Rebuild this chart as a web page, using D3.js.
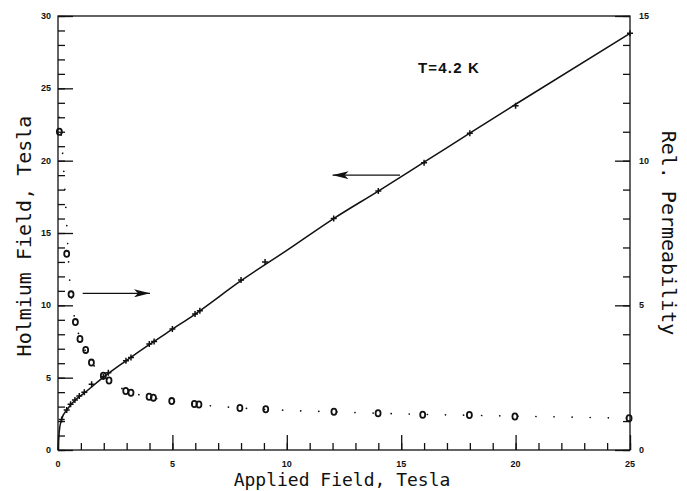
<!DOCTYPE html>
<html><head><meta charset="utf-8">
<script src="https://cdn.jsdelivr.net/npm/d3@7"></script>
<style>body{margin:0;background:#fff}svg{display:block}</style>
</head><body>
<script>
// Holmium field (left axis) measured points
const hoX = [0.16,0.38,0.55,0.74,0.93,1.15,1.47,1.98,2.2,2.97,3.19,3.99,4.2,5.0,5.99,6.2,8.0,9.05,12.05,14.0,16.0,18.0,20.0,25.0];
const hoY = [2.1,2.76,3.16,3.45,3.73,3.99,4.54,5.07,5.34,6.17,6.4,7.33,7.5,8.36,9.4,9.63,11.75,13.0,16.0,17.9,19.86,21.9,23.8,28.8];
// Holmium field fitted curve
const hoFitX = [0,0.05,0.15,0.4,0.75,1.2,2,3,4,5,6,8,10,12,14,16,18,20,25];
const hoFitY = [0,1.2,2.1,2.8,3.45,4.0,5.05,6.2,7.3,8.35,9.4,11.7,13.8,15.95,17.9,19.9,21.9,23.9,28.8];
// Relative permeability (right axis) measured points
const pmX = [0.06,0.38,0.57,0.76,0.96,1.21,1.46,1.98,2.23,2.96,3.19,3.98,4.17,4.97,5.96,6.16,7.95,9.08,12.06,13.99,15.94,17.98,19.97,24.96];
const pmY = [11.0,6.78,5.38,4.42,3.84,3.46,3.02,2.57,2.40,2.04,1.98,1.84,1.81,1.69,1.59,1.57,1.45,1.41,1.32,1.27,1.22,1.21,1.16,1.10];
// Relative permeability fitted curve (dotted)
const pmFitX = [0.05,0.2,0.3,0.4,0.5,0.6,0.8,1,1.5,2,3,4,5,6,8,10,12,14,16,18,20,25];
const pmFitY = [11.5,10.3,9.0,7.5,6.0,5.2,4.3,3.8,3.0,2.55,2.05,1.83,1.68,1.58,1.45,1.37,1.32,1.27,1.23,1.2,1.17,1.1];
// Tick labels
const xTicks = [0,5,10,15,20,25];
const yLeftTicks = [0,5,10,15,20,25,30];
const yRightTicks = [0,5,10,15];
// Annotation arrows (data coords on left axis)
const arrowsX1 = [14.95, 1.08];
const arrowsX2 = [12.0, 4.02];
const arrowsY = [19.0, 10.83];

const W = 687, H = 491;
const L = 58, R = 630, T = 16, B = 450;
const svg = d3.select("body").append("svg").attr("width", W).attr("height", H);

const x = d3.scaleLinear().domain([0,25]).range([L,R]);
const yL = d3.scaleLinear().domain([0,30]).range([B,T]);
const yR = d3.scaleLinear().domain([0,15]).range([B,T]);

const ink = "#111";
// frame
svg.append("rect").attr("x",L).attr("y",T).attr("width",R-L).attr("height",B-T)
  .attr("fill","none").attr("stroke",ink).attr("stroke-width",1.3);

const tickFont = "Arial, Liberation Sans, sans-serif";
function styleAxis(g){
  g.select(".domain").remove();
  g.selectAll(".tick line").attr("stroke",ink).attr("stroke-width",1.3);
}
// bottom axis
svg.append("g").attr("transform",`translate(0,${B})`)
  .call(d3.axisTop(x).tickValues(d3.range(0,26,1)).tickSize(7).tickFormat(""))
  .call(styleAxis);
svg.append("g").attr("transform",`translate(0,${B})`)
  .call(d3.axisTop(x).tickValues(xTicks).tickSize(15).tickFormat(""))
  .call(styleAxis);
svg.append("g").selectAll("text").data(xTicks).join("text")
  .attr("x",d=>x(d)).attr("y",B+17).attr("text-anchor","middle")
  .attr("font-family",tickFont).attr("font-weight","bold").attr("font-size",9).attr("fill",ink)
  .text(d=>d);
// left axis
svg.append("g").attr("transform",`translate(${L},0)`)
  .call(d3.axisRight(yL).tickValues(d3.range(0,31,1)).tickSize(7).tickFormat(""))
  .call(styleAxis);
svg.append("g").attr("transform",`translate(${L},0)`)
  .call(d3.axisRight(yL).tickValues(yLeftTicks).tickSize(15).tickFormat(""))
  .call(styleAxis);
svg.append("g").selectAll("text").data(yLeftTicks).join("text")
  .attr("x",L-7).attr("y",d=>yL(d)+3).attr("text-anchor","end")
  .attr("font-family",tickFont).attr("font-weight","bold").attr("font-size",9).attr("fill",ink)
  .text(d=>d);
// right axis
svg.append("g").attr("transform",`translate(${R},0)`)
  .call(d3.axisLeft(yR).tickValues(d3.range(0,16,1)).tickSize(7).tickFormat(""))
  .call(styleAxis);
svg.append("g").attr("transform",`translate(${R},0)`)
  .call(d3.axisLeft(yR).tickValues(yRightTicks).tickSize(15).tickFormat(""))
  .call(styleAxis);
svg.append("g").selectAll("text").data(yRightTicks).join("text")
  .attr("x",R+9).attr("y",d=>yR(d)+3).attr("text-anchor","start")
  .attr("font-family",tickFont).attr("font-weight","bold").attr("font-size",9).attr("fill",ink)
  .text(d=>d);

// axis titles
const titleFont = "DejaVu Sans Mono, monospace";
svg.append("text").attr("x",342).attr("y",486).attr("text-anchor","middle")
  .attr("font-family",titleFont).attr("font-size",18).attr("fill",ink).text("Applied Field, Tesla");
svg.append("text").attr("transform",`translate(31,236) rotate(-90)`).attr("text-anchor","middle")
  .attr("font-family",titleFont).attr("font-size",20).attr("fill",ink).text("Holmium Field, Tesla");
svg.append("text").attr("transform",`translate(662,233) rotate(90)`).attr("text-anchor","middle")
  .attr("font-family",titleFont).attr("font-size",20).attr("fill",ink).text("Rel. Permeability");

// annotation
svg.append("text").attr("x",449).attr("y",73).attr("text-anchor","middle")
  .attr("font-family","Arial, Liberation Sans, sans-serif").attr("font-size",15).attr("font-weight","bold")
  .attr("letter-spacing",1.2).attr("fill",ink)
  .text("T=4.2 K");

// holmium fit line
const hoFit = hoFitX.map((d,i)=>[d,hoFitY[i]]);
svg.append("path").datum(hoFit)
  .attr("d", d3.line().x(d=>x(d[0])).y(d=>yL(d[1])).curve(d3.curveMonotoneX))
  .attr("fill","none").attr("stroke",ink).attr("stroke-width",1.5);

// permeability fit dotted
const pmFit = pmFitX.map((d,i)=>[d,pmFitY[i]]);
svg.append("path").datum(pmFit)
  .attr("d", d3.line().x(d=>x(d[0])).y(d=>yR(d[1])).curve(d3.curveMonotoneX))
  .attr("fill","none").attr("stroke",ink).attr("stroke-width",1.7)
  .attr("stroke-linecap","round").attr("stroke-dasharray","0.1 18");

// holmium plus markers
const ho = hoX.map((d,i)=>[d,hoY[i]]);
svg.append("g").selectAll("path").data(ho).join("path")
  .attr("d", d=>{const cx=x(d[0]), cy=yL(d[1]); return `M${cx-3},${cy}H${cx+3}M${cx},${cy-3}V${cy+3}`;})
  .attr("stroke",ink).attr("stroke-width",1.5);

// permeability circle markers
const pm = pmX.map((d,i)=>[d,pmY[i]]);
svg.append("g").selectAll("ellipse").data(pm).join("ellipse")
  .attr("cx",d=>x(d[0])).attr("cy",d=>yR(d[1])).attr("rx",2.5).attr("ry",3.1)
  .attr("fill","none").attr("stroke",ink).attr("stroke-width",1.8);

// arrows
const defs = svg.append("defs");
defs.append("marker").attr("id","ah").attr("viewBox","0 0 16 8").attr("refX",16).attr("refY",4)
  .attr("markerWidth",16).attr("markerHeight",8).attr("markerUnits","userSpaceOnUse").attr("orient","auto")
  .append("path").attr("d","M0,0L16,4L0,8L4,4Z").attr("fill",ink);
svg.append("g").selectAll("line").data(arrowsY).join("line")
  .attr("x1",(d,i)=>x(arrowsX1[i])).attr("x2",(d,i)=>x(arrowsX2[i]))
  .attr("y1",d=>yL(d)).attr("y2",d=>yL(d))
  .attr("stroke",ink).attr("stroke-width",1.3).attr("marker-end","url(#ah)");
</script>
</body></html>
